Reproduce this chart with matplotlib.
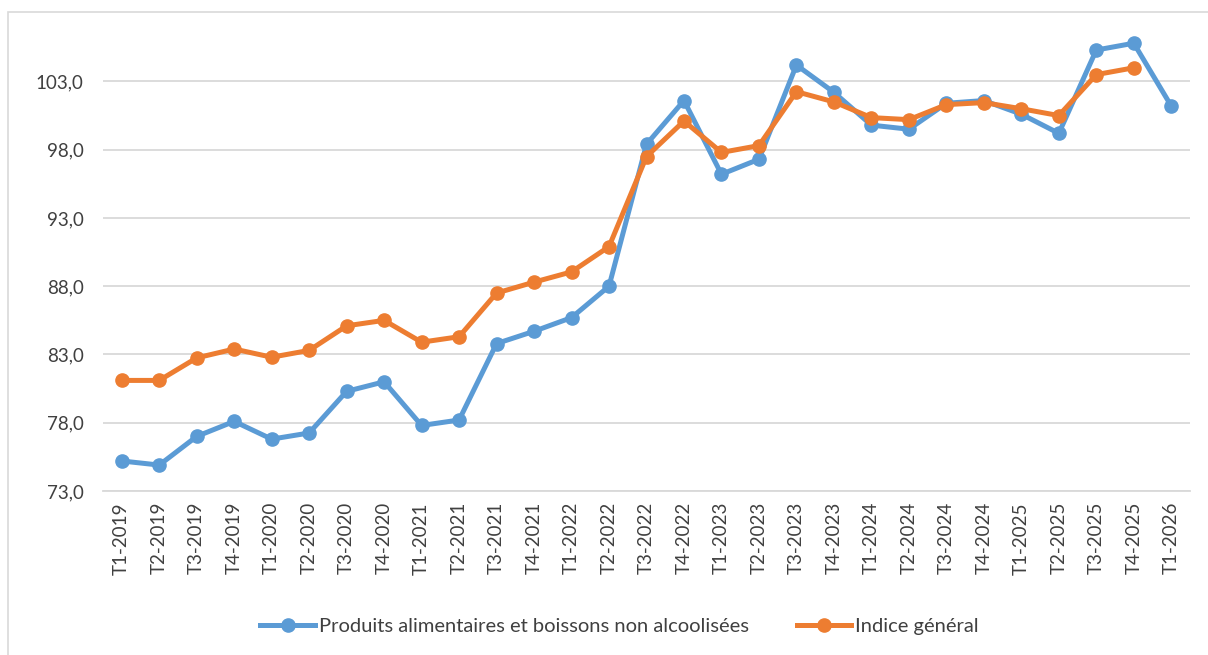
import matplotlib
matplotlib.use("Agg")
import matplotlib.pyplot as plt
from matplotlib.patches import Rectangle

trimestres = ["T1-2019", "T2-2019", "T3-2019", "T4-2019",
              "T1-2020", "T2-2020", "T3-2020", "T4-2020",
              "T1-2021", "T2-2021", "T3-2021", "T4-2021",
              "T1-2022", "T2-2022", "T3-2022", "T4-2022",
              "T1-2023", "T2-2023", "T3-2023", "T4-2023",
              "T1-2024", "T2-2024", "T3-2024", "T4-2024",
              "T1-2025", "T2-2025", "T3-2025", "T4-2025",
              "T1-2026"]

alimentaires = [75.2, 74.9, 77.0, 78.1, 76.8, 77.25, 80.3, 81.0,
                77.8, 78.2, 83.8, 84.7, 85.7, 88.0, 98.4, 101.6,
                96.2, 97.3, 104.2, 102.2, 99.8, 99.5, 101.4, 101.6,
                100.6, 99.2, 105.3, 105.8, 101.2]

general = [81.1, 81.1, 82.75, 83.4, 82.8, 83.3, 85.1, 85.5,
           83.9, 84.3, 87.5, 88.3, 89.05, 90.9, 97.5, 100.1,
           97.8, 98.3, 102.25, 101.5, 100.35, 100.2, 101.3, 101.45,
           101.0, 100.5, 103.5, 104.0]

y_ticks = [73, 78, 83, 88, 93, 98, 103]

plt.rcParams["font.family"] = ["Lato", "DejaVu Sans"]

fig = plt.figure(figsize=(12.08, 6.55), dpi=100)
ax = fig.add_axes([103 / 1208, 1 - 491 / 655, 1087 / 1208, 471 / 655])

# cadre du graphique
fig.patches.append(Rectangle((8 / 1208, -0.01), 1.02, 1 - 12 / 655 + 0.01,
                             transform=fig.transFigure, fill=False,
                             edgecolor="#D9D9D9", linewidth=1.2))

x = list(range(len(trimestres)))
ax.plot(x, alimentaires, color="#5B9BD5", lw=3.6, marker="o", ms=9.5,
        label="Produits alimentaires et boissons non alcoolisées", zorder=3)
ax.plot(x[:len(general)], general, color="#ED7D31", lw=3.6, marker="o", ms=9.5,
        label="Indice général", zorder=4)

ax.set_xlim(-0.5, len(trimestres) - 0.5)
ax.set_ylim(73, 107.5)
ax.set_yticks(y_ticks)
ax.set_yticklabels([f"{v:.1f}".replace(".", ",") for v in y_ticks],
                   fontsize=13.5, color="#404040")
ax.set_xticks(x)
ax.set_xticklabels(trimestres, rotation=90, fontsize=13.5, color="#404040")
ax.tick_params(axis="both", length=0)
ax.tick_params(axis="y", pad=14)
ax.tick_params(axis="x", pad=8)

ax.grid(axis="y", color="#D9D9D9", lw=1.3)
ax.set_axisbelow(True)
for s in ["top", "right", "left"]:
    ax.spines[s].set_visible(False)
ax.spines["bottom"].set_color("#D9D9D9")
ax.spines["bottom"].set_linewidth(1.3)

fig.legend(loc="center", bbox_to_anchor=(0.513, 1 - 626 / 655), ncol=2,
           frameon=False, fontsize=14.5, handlelength=2.7, columnspacing=2.4,
           handletextpad=0.2, labelcolor="#404040")

fig.savefig("out.png", dpi=100)
